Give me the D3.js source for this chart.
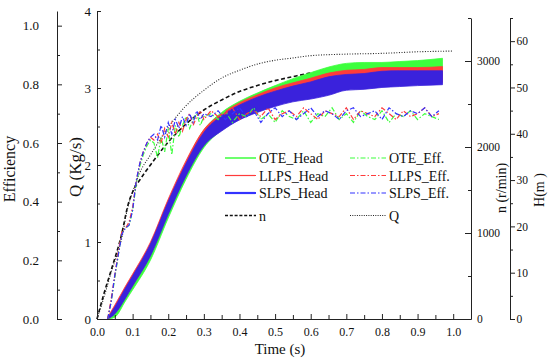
<!DOCTYPE html>
<html><head><meta charset="utf-8">
<script src="https://cdn.jsdelivr.net/npm/d3@7"></script>
<style>
body{margin:0;background:#fff}
text{font-family:"Liberation Serif","Times New Roman",serif;fill:#111}
</style>
</head><body>
<svg id="c" width="550" height="358"></svg>
<script>
// ---------- data ----------
const headT = [0.03,0.05,0.08,0.10,0.15,0.20,0.25,0.30,0.35,0.40,0.45,0.50,0.55,0.60,0.65,0.70,0.75,0.80,0.85,0.90,0.97];
const oteHeadHi  = [0,2.2,6.3,8.8,15.7,25.0,33.8,40.8,44.6,47.0,48.8,50.4,51.9,53.2,54.4,55.2,55.4,55.4,55.6,55.8,56.3];
const oteHeadLo  = [0,0.4,3.9,6.3,12.7,21.8,30.2,37.0,40.8,43.4,45.2,46.8,48.2,49.3,50.4,51.1,51.5,51.7,51.7,51.9,52.4];
const llpsHeadHi = [0.4,3.0,7.1,9.7,16.6,25.9,34.2,40.9,44.3,46.7,48.4,49.9,51.0,52.0,53.1,53.7,53.9,54.3,54.3,54.3,54.5];
const llpsHeadLo = [0,1.3,5.0,7.3,14.0,23.1,31.3,37.9,41.0,43.6,45.0,46.4,47.5,48.4,49.3,50.0,50.2,50.6,50.9,50.9,51.1];
const slpsHeadHi = [0.2,2.6,6.7,9.3,16.2,25.4,33.6,40.3,43.9,46.2,47.9,49.2,50.3,51.2,52.3,52.8,53.0,53.5,53.6,53.6,53.6];
const slpsHeadLo = [0,1.1,4.5,7.1,13.6,22.6,30.9,37.4,40.6,43.0,44.6,45.9,46.9,47.5,48.3,49.4,49.6,50.0,50.2,50.4,50.6];

const effT = [0.03,0.04,0.05,0.06,0.07,0.08,0.09,0.10,0.11,0.12,0.13,0.14,0.15,0.16,0.17,0.18,0.19,0.20,0.21,0.22,0.23,0.24,0.25,0.26,0.27,0.28,0.29,0.30,
  0.32,0.34,0.36,0.38,0.40,0.42,0.44,0.46,0.48,0.50,0.52,0.54,0.56,0.58,0.60,0.62,0.64,0.66,0.68,0.70,0.72,0.74,0.76,0.78,0.80,0.82,0.84,0.86,0.88,0.90,0.92,0.94,0.96];
const oteEff = [0.00,0.06,0.14,0.22,0.30,0.31,0.32,0.37,0.46,0.52,0.56,0.59,0.61,0.60,0.55,0.62,0.57,0.65,0.56,0.66,0.62,0.66,0.69,0.65,0.68,0.70,0.66,0.69,
  0.70,0.68,0.71,0.67,0.70,0.69,0.72,0.68,0.70,0.67,0.71,0.69,0.68,0.71,0.67,0.70,0.69,0.72,0.68,0.70,0.67,0.71,0.69,0.68,0.71,0.67,0.70,0.69,0.71,0.68,0.70,0.69,0.68];
const llpsEff = [0.00,0.07,0.15,0.23,0.30,0.31,0.33,0.38,0.47,0.53,0.57,0.60,0.62,0.61,0.63,0.60,0.65,0.62,0.67,0.63,0.67,0.64,0.68,0.70,0.66,0.69,0.71,0.68,
  0.71,0.69,0.70,0.72,0.68,0.70,0.71,0.69,0.72,0.68,0.70,0.71,0.69,0.72,0.70,0.68,0.71,0.70,0.69,0.72,0.68,0.71,0.70,0.69,0.72,0.70,0.68,0.71,0.69,0.70,0.72,0.69,0.70];
const slpsEff = [0.00,0.06,0.15,0.22,0.29,0.31,0.32,0.37,0.47,0.53,0.57,0.60,0.62,0.63,0.61,0.66,0.62,0.67,0.63,0.68,0.65,0.69,0.66,0.70,0.67,0.71,0.68,0.70,
  0.69,0.71,0.68,0.70,0.72,0.69,0.71,0.67,0.70,0.72,0.69,0.71,0.68,0.70,0.72,0.69,0.71,0.70,0.68,0.71,0.72,0.69,0.70,0.71,0.68,0.72,0.70,0.69,0.71,0.70,0.72,0.69,0.71];

const nT = [0,0.02,0.04,0.07,0.087,0.10,0.12,0.15,0.20,0.25,0.30,0.35,0.40,0.45,0.50,0.55,0.60,0.65,0.70,0.80,0.97];
const nVal = [0,302,570,1000,1326,1477,1616,1790,2058,2267,2430,2547,2645,2715,2772,2818,2860,2884,2895,2900,2900];

const qT = [0,0.02,0.04,0.07,0.085,0.10,0.12,0.15,0.20,0.25,0.30,0.35,0.40,0.45,0.50,0.55,0.60,0.70,0.80,0.90,1.0];
const qVal = [0,0.29,0.61,1.06,1.42,1.65,1.90,2.13,2.49,2.77,2.97,3.13,3.23,3.31,3.36,3.39,3.42,3.44,3.45,3.47,3.48];

const xMajor = [0,0.1,0.2,0.3,0.4,0.5,0.6,0.7,0.8,0.9,1.0];
const xMinor = [0.05,0.15,0.25,0.35,0.45,0.55,0.65,0.75,0.85,0.95];
const effMajor = [0,0.2,0.4,0.6,0.8,1.0];
const effMinor = [0.1,0.3,0.5,0.7,0.9];
const qMajor = [0,1,2,3,4];
const qMinor = [0.5,1.5,2.5,3.5];
const nMajor = [0,1000,2000,3000];
const nMinor = [500,1500,2500,3500];
const hMajor = [0,10,20,30,40,50,60];
const hMinor = [5,15,25,35,45,55,65];

// ---------- scales ----------
const svg = d3.select('#c');
const xS = d3.scaleLinear().domain([0,1.05]).range([97,471]);
const effS = d3.scaleLinear().domain([0,1.05]).range([319,11]);
const qS = d3.scaleLinear().domain([0,4]).range([319,11]);
const nS = d3.scaleLinear().domain([0,3500]).range([319,18]);
const hS = d3.scaleLinear().domain([0,65]).range([319,18]);

const GREEN='#3dff3d', RED='#ff3b3b', BLUE='#3a22dc', BLUE_L='#3333ff';
const SERIF='"Liberation Serif","Times New Roman",serif';

// ---------- series ----------
const lineN = d3.line().x((d,i)=>xS(nT[i])).y(d=>nS(d)).curve(d3.curveMonotoneX);
svg.append('path').attr('d',lineN(nVal)).attr('fill','none').attr('stroke','#111')
  .attr('stroke-width',1.6).attr('stroke-dasharray','4,2.5');
const lineQ = d3.line().x((d,i)=>xS(qT[i])).y(d=>qS(d)).curve(d3.curveMonotoneX);
svg.append('path').attr('d',lineQ(qVal)).attr('fill','none').attr('stroke','#222')
  .attr('stroke-width',1.1).attr('stroke-dasharray','1,1.6');

function band(hi,lo,color){
  const a = d3.area().x((d,i)=>xS(headT[i])).y0((d,i)=>hS(lo[i])).y1(d=>hS(d)).curve(d3.curveMonotoneX);
  svg.append('path').attr('d',a(hi)).attr('fill',color).attr('stroke',color).attr('stroke-width',0.8);
}
band(oteHeadHi,oteHeadLo,GREEN);
band(llpsHeadHi,llpsHeadLo,RED);
band(slpsHeadHi,slpsHeadLo,BLUE);

const effLine = d3.line().x((d,i)=>xS(effT[i])).y(d=>effS(d));
[[oteEff,GREEN],[llpsEff,RED],[slpsEff,BLUE_L]].forEach(([arr,c])=>{
  svg.append('path').attr('d',effLine(arr)).attr('fill','none').attr('stroke',c)
    .attr('stroke-width',1.2).attr('stroke-dasharray','5,2,1.5,2');
});

// ---------- axes ----------
function styleAxis(g,fs){
  g.attr('font-family',SERIF);
  g.selectAll('path,line').attr('stroke','#222').attr('stroke-width',1);
  g.selectAll('text').attr('font-size',fs).attr('font-family',SERIF).attr('fill','#111');
}
// Efficiency
let g = svg.append('g').attr('transform','translate(57,0)')
  .call(d3.axisLeft(effS).tickValues(effMajor).tickSizeInner(-5).tickSizeOuter(0).tickPadding(18).tickFormat(d3.format('.1f')));
styleAxis(g,13);
g = svg.append('g').attr('transform','translate(57,0)')
  .call(d3.axisLeft(effS).tickValues(effMinor).tickSizeInner(-3).tickSizeOuter(0).tickFormat(''));
g.select('.domain').remove(); styleAxis(g,13);
// Q
g = svg.append('g').attr('transform','translate(97,0)')
  .call(d3.axisLeft(qS).tickValues(qMajor).tickSizeInner(-4).tickSizeOuter(0).tickPadding(6).tickFormat(d3.format('d')));
styleAxis(g,13);
g = svg.append('g').attr('transform','translate(97,0)')
  .call(d3.axisLeft(qS).tickValues(qMinor).tickSizeInner(-3).tickSizeOuter(0).tickFormat(''));
g.select('.domain').remove(); styleAxis(g,13);
// X
g = svg.append('g').attr('transform','translate(0,319)')
  .call(d3.axisBottom(xS).tickValues(xMajor).tickSizeInner(-5).tickSizeOuter(0).tickPadding(8.5).tickFormat(d3.format('.1f')));
styleAxis(g,12);
g = svg.append('g').attr('transform','translate(0,319)')
  .call(d3.axisBottom(xS).tickValues(xMinor).tickSizeInner(-4).tickSizeOuter(0).tickFormat(''));
g.select('.domain').remove(); styleAxis(g,12);
// n
g = svg.append('g').attr('transform','translate(471,0)')
  .call(d3.axisRight(nS).tickValues(nMajor).tickSizeInner(-6).tickSizeOuter(0).tickPadding(6).tickFormat(d3.format('d')));
styleAxis(g,11.5);
g = svg.append('g').attr('transform','translate(471,0)')
  .call(d3.axisRight(nS).tickValues(nMinor).tickSizeInner(-3).tickSizeOuter(0).tickFormat(''));
g.select('.domain').remove(); styleAxis(g,11.5);
// H
g = svg.append('g').attr('transform','translate(510,0)')
  .call(d3.axisRight(hS).tickValues(hMajor).tickSizeInner(5).tickSizeOuter(0).tickPadding(1.5).tickFormat(d3.format('d')));
styleAxis(g,11.5);
g = svg.append('g').attr('transform','translate(510,0)')
  .call(d3.axisRight(hS).tickValues(hMinor).tickSizeInner(3).tickSizeOuter(0).tickFormat(''));
g.select('.domain').remove(); styleAxis(g,11.5);

// ---------- titles ----------
svg.append('text').attr('transform','translate(15,169) rotate(-90)').attr('text-anchor','middle')
  .attr('font-size',16).text('Efficiency');
svg.append('text').attr('transform','translate(81,167) rotate(-90)').attr('text-anchor','middle')
  .attr('font-size',17).text('Q (Kg/s)');
svg.append('text').attr('transform','translate(506,188) rotate(-90)').attr('text-anchor','middle')
  .attr('font-size',14).text('n (r/min)');
svg.append('text').attr('transform','translate(544,190) rotate(-90)').attr('text-anchor','middle')
  .attr('font-size',14).text('H(m )');
svg.append('text').attr('x',280).attr('y',353.5).attr('text-anchor','middle')
  .attr('font-size',15).text('Time (s)');

// ---------- legend ----------
const legendItems = [
  {label:'OTE_Head', color:GREEN, dash:null, w:1.5, col:0, row:0},
  {label:'LLPS_Head', color:RED, dash:null, w:1.2, col:0, row:1},
  {label:'SLPS_Head', color:BLUE_L, dash:null, w:2.2, col:0, row:2},
  {label:'n', color:'#111', dash:'3,1.8', w:1.5, col:0, row:3},
  {label:'OTE_Eff.', color:GREEN, dash:'5,2,1.5,2', w:1.2, col:1, row:0},
  {label:'LLPS_Eff.', color:RED, dash:'5,2,1.5,2', w:1.2, col:1, row:1},
  {label:'SLPS_Eff.', color:BLUE_L, dash:'5,2,1.5,2', w:1.2, col:1, row:2},
  {label:'Q', color:'#222', dash:'1,1.3', w:1, col:1, row:3}
];
const rowY = [158,175.5,193,215.5];
const colX = [[225,256,259],[350,386,389]];
legendItems.forEach(it=>{
  const y = rowY[it.row], cx = colX[it.col];
  const l = svg.append('line').attr('x1',cx[0]).attr('x2',cx[1]).attr('y1',y).attr('y2',y)
    .attr('stroke',it.color).attr('stroke-width',it.w);
  if(it.dash) l.attr('stroke-dasharray',it.dash);
  svg.append('text').attr('x',cx[2]).attr('y',y+5).attr('font-size',14).text(it.label);
});
</script>
</body></html>
